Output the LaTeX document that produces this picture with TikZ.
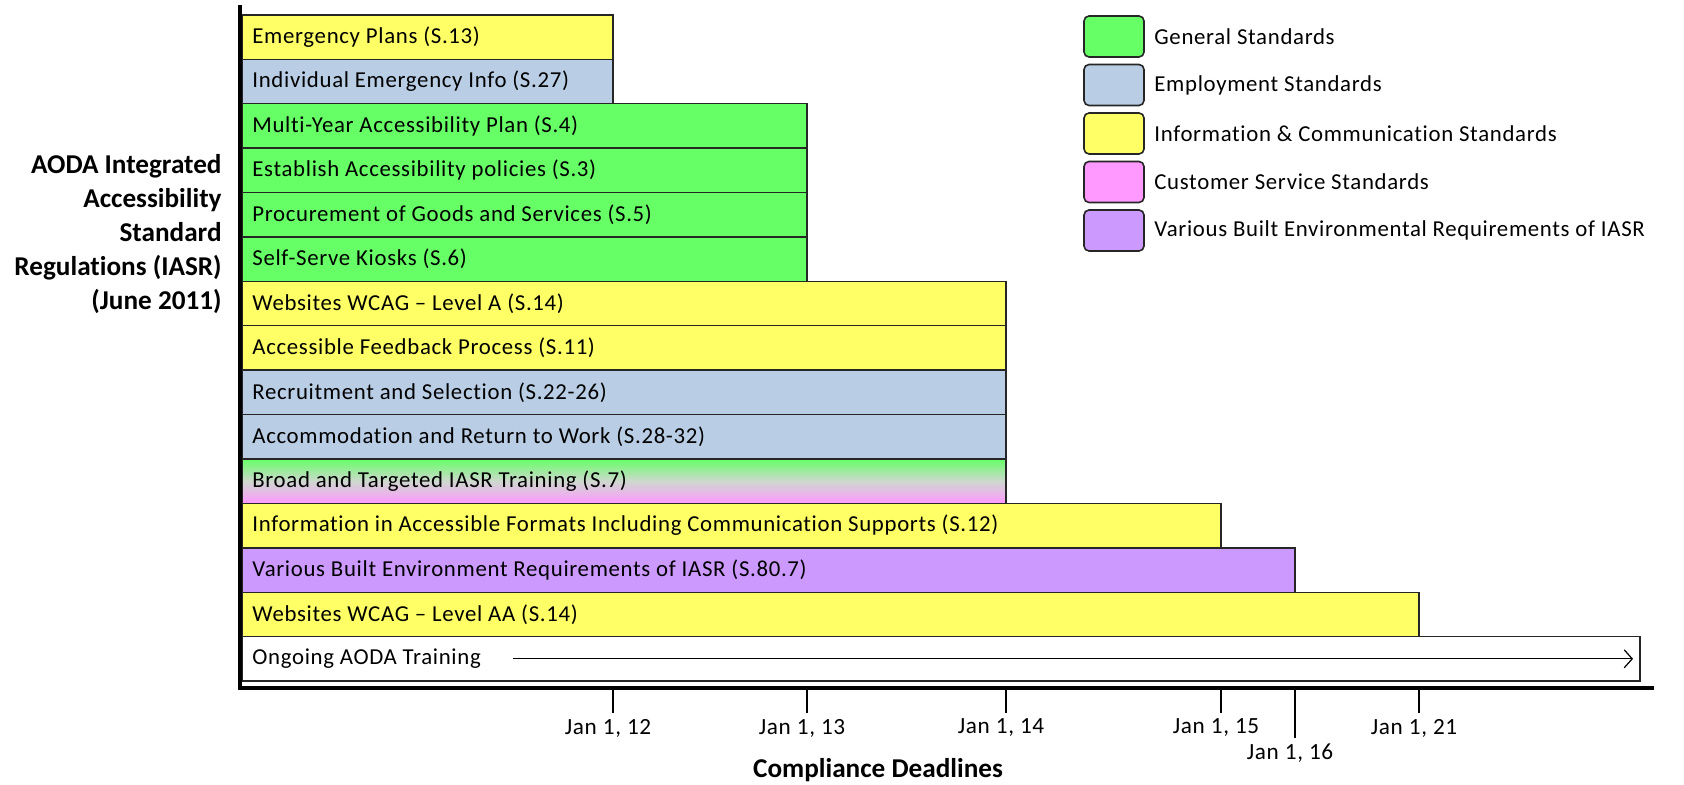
\documentclass[tikz,border=0pt]{standalone}
\usepackage{fontspec}
\setmainfont{Carlito}[Ligatures={TeX,NoCommon}]
\newfontfamily\lblfont{Carlito}[LetterSpace=3, Ligatures={TeX,NoCommon}]
\usetikzlibrary{math,arrows.meta}

\definecolor{genstd}{HTML}{66FF66}
\definecolor{empstd}{HTML}{B9CDE5}
\definecolor{infostd}{HTML}{FFFF66}
\definecolor{custstd}{HTML}{FF99FF}
\definecolor{builtstd}{HTML}{CC99FF}

\begin{document}
\begin{tikzpicture}[x=0.5pt,y=-0.5pt,
  stdgen/.style={fill=genstd}, stdemp/.style={fill=empstd},
  stdinfo/.style={fill=infostd}, stdcust/.style={fill=custstd},
  stdbuilt/.style={fill=builtstd}, stdnone/.style={fill=white},
  stdmix/.style={top color=genstd, bottom color=custstd, middle color=custstd!55!genstd!70!white},
  bar/.style={draw=black!85, line width=0.7pt},
  barlabel/.style={anchor=west, inner sep=0pt, font=\lblfont\fontsize{11.4}{13}\selectfont},
  swatch/.style={draw=black!85, line width=0.8pt, rounded corners=2.5pt},
  datelabel/.style={inner sep=0pt, font=\lblfont\fontsize{11.6}{13}\selectfont}]
  \tikzmath{%
    \ytop = 15; \rowh = 44.4; \barx = 242;
    \axisx = 240; \axisy = 688; \keyy = 16; \keyh = 48.5;
  }
  \useasboundingbox (0,0) rectangle (1684,785);

  % deadline bars, one per row
  \foreach \txt/\xr/\kind [count=\i from 0] in {
      Emergency Plans (S.13)/613/stdinfo,
      Individual Emergency Info (S.27)/613/stdemp,
      Multi-Year Accessibility Plan (S.4)/807/stdgen,
      Establish Accessibility policies (S.3)/807/stdgen,
      Procurement of Goods and Services (S.5)/807/stdgen,
      Self-Serve Kiosks (S.6)/807/stdgen,
      Websites WCAG – Level A (S.14)/1006/stdinfo,
      Accessible Feedback Process (S.11)/1006/stdinfo,
      Recruitment and Selection (S.22-26)/1006/stdemp,
      Accommodation and Return to Work (S.28-32)/1006/stdemp,
      Broad and Targeted IASR Training (S.7)/1006/stdmix,
      Information in Accessible Formats Including Communication Supports (S.12)/1221/stdinfo,
      Various Built Environment Requirements of IASR (S.80.7)/1295/stdbuilt,
      Websites WCAG – Level AA (S.14)/1419/stdinfo,
      Ongoing AODA Training/1640/stdnone}{
    \draw[bar, \kind] (\barx, \ytop+\i*\rowh) rectangle (\xr, \ytop+\i*\rowh+\rowh);
    \node[barlabel] (row\i) at (\barx+10, \ytop+\i*\rowh+\rowh/2) {\txt};
  }

  % ongoing training runs past the last deadline
  \coordinate (ongoing) at (513, \ytop+14.5*\rowh);
  \coordinate (ongoingend) at (1633, \ytop+14.5*\rowh);
  \draw[line width=0.6pt, -{Straight Barb[length=4pt,width=9pt]}] (ongoing) -- (ongoingend);

  % axes
  \draw[line width=2.3pt] (\axisx, 5) -- (\axisx, \axisy) -- (1654, \axisy);

  % deadline ticks
  \foreach \x/\yr/\ly in {613/12/728, 807/13/728, 1006/14/728, 1221/15/728, 1295/16/753, 1419/21/728}{
    \node[datelabel] (d\yr) at (\x-5, \ly) {Jan 1, \yr};
    \draw[line width=0.6pt] (\x, \axisy) -- (\x, \ly-15);
  }

  \node[anchor=east, align=right, inner sep=0pt, font=\bfseries\fontsize{13.6}{17}\selectfont]
    (regs) at (222, 234) {AODA Integrated\\Accessibility\\Standard\\Regulations (IASR)\\(June 2011)};
  \node[inner sep=0pt, font=\bfseries\fontsize{13.6}{15}\selectfont] (deadlines) at (878, 770) {Compliance Deadlines};

  % legend
  \foreach \kind/\txt [count=\i from 0] in {
      stdgen/General Standards,
      stdemp/Employment Standards,
      stdinfo/Information \& Communication Standards,
      stdcust/Customer Service Standards,
      stdbuilt/Various Built Environmental Requirements of IASR}{
    \draw[swatch, \kind] (1084, \keyy+\i*\keyh) rectangle (1144, \keyy+\i*\keyh+41);
    \node[barlabel] (key\i) at (1154, \keyy+\i*\keyh+20.5) {\txt};
  }
\end{tikzpicture}
\end{document}
